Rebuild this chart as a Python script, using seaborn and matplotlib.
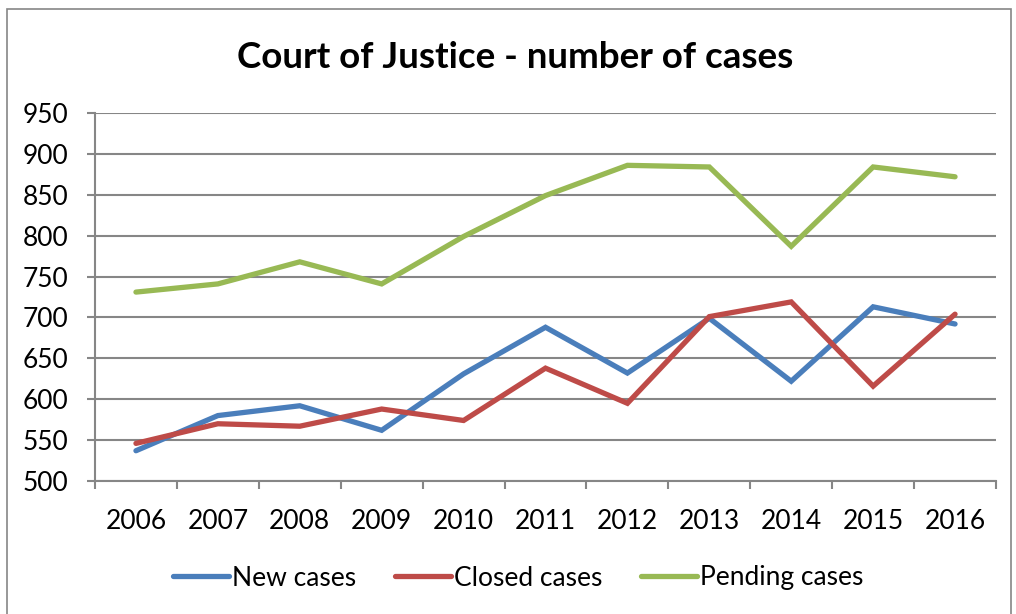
import pandas as pd
import matplotlib
matplotlib.use("Agg")
import matplotlib.pyplot as plt
from matplotlib.patches import Rectangle
from matplotlib.ticker import FixedLocator
import seaborn as sns

# data
years = [2006, 2007, 2008, 2009, 2010, 2011, 2012, 2013, 2014, 2015, 2016]
new_cases = [537, 580, 592, 562, 631, 688, 632, 699, 622, 713, 692]
closed_cases = [546, 570, 567, 588, 574, 638, 595, 701, 719, 616, 704]
pending_cases = [731, 741, 768, 741, 799, 849, 886, 884, 787, 884, 872]
series_names = ["New cases", "Closed cases", "Pending cases"]
y_ticks = [500, 550, 600, 650, 700, 750, 800, 850, 900, 950]

df = pd.DataFrame({
    "year": years * 3,
    "cases": new_cases + closed_cases + pending_cases,
    "series": [n for n in series_names for _ in years],
})

sns.set_style("white")
plt.rcParams["font.family"] = ["Lato", "DejaVu Sans"]
plt.rcParams["text.color"] = "black"
plt.rcParams["xtick.color"] = "black"
plt.rcParams["ytick.color"] = "black"

grey = "#868686"
colors = ["#4A7EBB", "#BE4B48", "#98B954"]

fig = plt.figure(figsize=(10.16, 6.14), dpi=100)
ax = fig.add_axes([95 / 1016, 1 - 481 / 614, (996 - 95) / 1016, (481 - 113) / 614])

sns.lineplot(data=df, x="year", y="cases", hue="series", hue_order=series_names,
             palette=colors, linewidth=3.8, legend=False, ax=ax,
             solid_capstyle="round", solid_joinstyle="miter")

ax.set_xlim(2005.5, 2016.5)
ax.set_ylim(500, 950)
ax.set_xlabel("")
ax.set_ylabel("")

# gridlines and axes in Excel grey
ax.set_yticks(y_ticks)
ax.yaxis.grid(True, color=grey, linewidth=1.5)
ax.set_axisbelow(True)
for side in ["top", "right"]:
    ax.spines[side].set_visible(False)
for side in ["left", "bottom"]:
    ax.spines[side].set_color(grey)
    ax.spines[side].set_linewidth(1.5)

ax.set_xticks(years)
ax.set_xticklabels([str(y) for y in years])
ax.xaxis.set_minor_locator(FixedLocator([y - 0.5 for y in years] + [years[-1] + 0.5]))
ax.tick_params(axis="x", which="major", length=0, pad=20, labelsize=19, labelcolor="black")
ax.tick_params(axis="x", which="minor", length=6, width=1.5, color=grey, direction="out", bottom=True)
ax.tick_params(axis="y", length=6, width=1.5, color=grey, direction="out", left=True, pad=13,
               labelsize=19, labelcolor="black")

fig.text(0.507, 1 - 57 / 614, "Court of Justice - number of cases",
         ha="center", va="center", fontsize=26.5, fontweight="bold", color="black")

ax.legend(ax.lines[:3], series_names, loc="center", bbox_to_anchor=(518 / 1016, 1 - 578 / 614),
          bbox_transform=fig.transFigure, ncol=3, frameon=False, fontsize=19,
          handlelength=2.15, handletextpad=0.1, columnspacing=1.45)

fig.add_artist(Rectangle((7 / 1016, -0.05), 1004 / 1016, 1 - 9 / 614 + 0.05,
                         transform=fig.transFigure, fill=False, edgecolor=grey, linewidth=1.2))

fig.savefig("out.png", dpi=100)
